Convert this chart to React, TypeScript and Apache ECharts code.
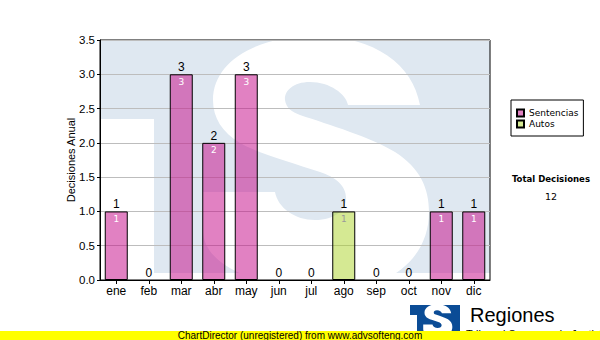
import React, { useEffect, useRef } from "react";
import * as echarts from "echarts";

const months = ["ene", "feb", "mar", "abr", "may", "jun", "jul", "ago", "sep", "oct", "nov", "dic"];
const sentencias = [1, 0, 3, 2, 3, 0, 0, 0, 0, 0, 1, 1];
const autos = [0, 0, 0, 0, 0, 0, 0, 1, 0, 0, 0, 0];
const totalDecisiones = 12;

const PINK = "rgba(198, 14, 138, 0.52)";
const GREEN = "rgba(172, 212, 40, 0.5)";
const WATER = "#dfe8f1";

const S_PATH =
  "M 420 105 L 348 105 C 346 94 330 82 310 82 C 292 82 284 92 285 100 C 286 108 292 112 300 115 " +
  "C 330 125 370 137 395 152 C 420 168 429 188 429 212 C 429 255 395 290 330 290 " +
  "C 270 290 203 270 203 230 L 203 192 L 275 192 C 278 208 295 220 315 220 " +
  "C 335 220 346 210 346 198 C 346 185 335 177 320 172 C 290 162 255 152 240 143 " +
  "C 222 132 213 118 213 100 C 213 62 255 36 315 36 C 375 36 413 65 420 105 Z";

let registered = false;
function ensureShape() {
  if (registered) return;
  echarts.graphic.registerShape("tsS", echarts.graphic.extendPath(S_PATH, {}));
  registered = true;
}

export default function App() {
  const ref = useRef<HTMLDivElement>(null);
  useEffect(() => {
    if (!ref.current) return;
    ensureShape();
    const chart = echarts.init(ref.current, undefined, { renderer: "svg" });
    const totals = months.map((_, i) => sentencias[i] + autos[i]);
    const inner = (p: any) => (p.value ? String(p.value) : "");
    const k = 50 / 389;
    chart.setOption({
      animation: false,
      backgroundColor: "#fff",
      grid: { left: 100, right: 110, top: 40, bottom: 60, show: true, borderColor: "#000", borderWidth: 1, backgroundColor: "transparent" },
      legend: {
        orient: "vertical",
        left: 511,
        top: 100,
        data: ["Sentencias", "Autos"],
        padding: [8, 5, 7, 5],
        itemWidth: 7,
        itemHeight: 7,
        itemGap: 1,
        borderColor: "#000",
        borderWidth: 1,
        backgroundColor: "#fff",
        icon: "rect",
        textStyle: { fontSize: 9, fontFamily: "DejaVu Sans", color: "#000", lineHeight: 10 },
      },
      xAxis: {
        type: "category",
        data: months,
        axisLine: { show: true, lineStyle: { color: "#000" } },
        axisTick: { show: true, alignWithLabel: true, length: 4, lineStyle: { color: "#000" } },
        axisLabel: { margin: 5, fontSize: 12, color: "#000", fontFamily: "Liberation Sans" },
        splitLine: { show: false },
      },
      yAxis: {
        type: "value",
        min: 0,
        max: 3.5,
        interval: 0.5,
        name: "Decisiones Anual",
        nameLocation: "middle",
        nameGap: 24,
        nameMoveOverlap: false,
        nameTextStyle: { fontSize: 11, color: "#000", fontFamily: "Liberation Sans" },
        axisLine: { show: true, lineStyle: { color: "#000" } },
        axisTick: { show: true, length: 3, lineStyle: { color: "#000" } },
        axisLabel: { margin: 5, fontSize: 11.5, color: "#000", fontFamily: "Liberation Sans", formatter: (v: number) => v.toFixed(1) },
        splitLine: { show: true, lineStyle: { color: "#bdbdbd" } },
      },
      series: [
        {
          name: "Sentencias",
          type: "bar",
          stack: "a",
          barWidth: 23,
          data: sentencias.map((v) => (v ? v : null)),
          itemStyle: { color: PINK, borderColor: "#000", borderWidth: 1 },
          label: { show: true, position: "insideTop", distance: 3, color: "#fff", fontSize: 9, fontFamily: "DejaVu Sans", formatter: inner },
        },
        {
          name: "Autos",
          type: "bar",
          stack: "a",
          barWidth: 23,
          data: autos.map((v) => (v ? v : null)),
          itemStyle: { color: GREEN, borderColor: "#000", borderWidth: 1 },
          label: { show: true, position: "insideTop", distance: 3, color: "#9a9a9a", fontSize: 9, fontFamily: "DejaVu Sans", formatter: inner },
        },
        {
          name: "Total",
          type: "bar",
          stack: "a",
          barWidth: 23,
          data: months.map(() => 0),
          itemStyle: { color: "transparent", borderWidth: 0 },
          label: { show: true, position: "top", distance: 1, color: "#000", fontSize: 12, fontFamily: "Liberation Sans", formatter: (p: any) => String(totals[p.dataIndex]) },
        },
      ],
      graphic: [
        { type: "rect", z: -5, silent: true, shape: { x: 101, y: 41, width: 389, height: 232 }, style: { fill: WATER } },
        { type: "rect", z: -4, silent: true, shape: { x: 101, y: 119, width: 53, height: 154 }, style: { fill: "#fff" } },
        { type: "tsS", z: -3, silent: true, x: 0, y: 0, style: { fill: "#fff" } },
        {
          type: "text", z: 10, silent: true, x: 551, y: 178,
          style: { text: "Total Decisiones", fontSize: 9.5, fontFamily: "DejaVu Sans Condensed", fontWeight: "bold", fill: "#000", align: "center", verticalAlign: "middle" },
        },
        {
          type: "text", z: 10, silent: true, x: 551, y: 196,
          style: { text: String(totalDecisiones), fontSize: 9.5, fontFamily: "DejaVu Sans", fill: "#000", align: "center", verticalAlign: "middle" },
        },
        { type: "rect", z: 10, silent: true, shape: { x: 410, y: 305, width: 50, height: 30 }, style: { fill: "#0b4c96" } },
        { type: "rect", z: 11, silent: true, shape: { x: 410, y: 315, width: 7, height: 20 }, style: { fill: "#fff" } },
        { type: "tsS", z: 12, silent: true, x: 410 - 101 * k, y: 305 - 41 * k, scaleX: k, scaleY: k, style: { fill: "#fff" } },
        {
          type: "text", z: 10, silent: true, x: 470, y: 315,
          style: { text: "Regiones", fontSize: 20, fontFamily: "Liberation Sans", fill: "#000", align: "left", verticalAlign: "middle" },
        },
        {
          type: "text", z: 10, silent: true, x: 466, y: 334,
          style: { text: "Tribunal Supremo de Justicia", fontSize: 11, fontFamily: "Liberation Sans", fill: "#000", align: "left", verticalAlign: "middle" },
        },
        { type: "rect", z: 20, silent: true, shape: { x: 0, y: 331, width: 600, height: 9 }, style: { fill: "#ffff00" } },
        {
          type: "text", z: 21, silent: true, x: 300, y: 335.5,
          style: { text: "ChartDirector (unregistered) from www.advsofteng.com", fontSize: 10, fontFamily: "Liberation Sans", fill: "#000", align: "center", verticalAlign: "middle" },
        },
      ],
    });
    return () => chart.dispose();
  }, []);
  return <div ref={ref} style={{ position: "absolute", left: 0, top: 0, width: 600, height: 340 }} />;
}
